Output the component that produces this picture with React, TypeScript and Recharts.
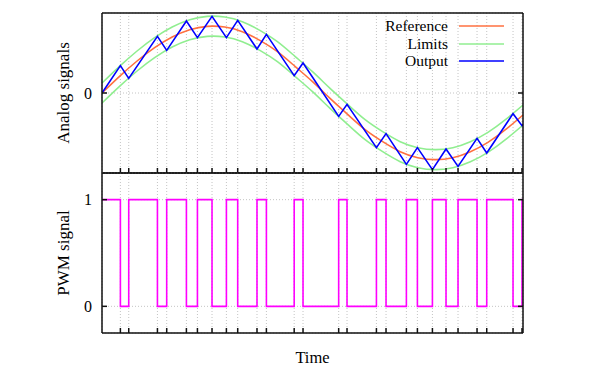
import React from 'react';
import { LineChart, Line, XAxis, YAxis, CartesianGrid, Legend } from 'recharts';

// switching instants of the PWM signal, on a time axis running 0..6
const switchTimes = [
  0.262, 0.381, 0.79, 0.922, 1.203, 1.36, 1.568, 1.773, 1.934, 2.209, 2.343, 2.739, 2.865,
  3.373, 3.492, 3.911, 4.048, 4.338, 4.495, 4.709, 4.903, 5.074, 5.345, 5.483, 5.858, 5.986,
];

// reference sine and the tolerance band around it
const sampleTimes = [
  0, 0.25, 0.5, 0.75, 1, 1.25, 1.5, 1.75, 2, 2.25, 2.5, 2.75, 3, 3.25, 3.5, 3.75, 4, 4.25, 4.5,
  4.75, 5, 5.25, 5.5, 5.75, 6,
];
const referenceValues = [
  0, 0.25, 0.48, 0.68, 0.84, 0.95, 1.0, 0.99, 0.92, 0.79, 0.62, 0.4, 0.17, -0.08, -0.32, -0.55,
  -0.73, -0.88, -0.97, -1.0, -0.97, -0.88, -0.74, -0.55, -0.33,
];
const upperLimitValues = [
  0.15, 0.4, 0.63, 0.83, 0.99, 1.1, 1.15, 1.14, 1.07, 0.94, 0.77, 0.55, 0.32, 0.07, -0.17, -0.4,
  -0.58, -0.73, -0.82, -0.85, -0.82, -0.73, -0.59, -0.4, -0.18,
];
const lowerLimitValues = [
  -0.15, 0.1, 0.33, 0.53, 0.69, 0.8, 0.85, 0.84, 0.77, 0.64, 0.47, 0.25, 0.02, -0.23, -0.47,
  -0.7, -0.88, -1.03, -1.12, -1.15, -1.12, -1.03, -0.89, -0.7, -0.48,
];

// output (blue zigzag) at t=0, every switching instant, and t=6
const outputTimes = [0, ...switchTimes, 6];
const outputValues = [
  0, 0.41, 0.22, 0.85, 0.64, 1.08, 0.83, 1.15, 0.83, 1.09, 0.66, 0.88, 0.26, 0.45, -0.35, -0.17,
  -0.82, -0.61, -1.07, -0.82, -1.15, -0.84, -1.1, -0.68, -0.9, -0.31, -0.49, -0.47,
];

// PWM level from each instant on
const pwmTimes = [0, ...switchTimes, 6];
const pwmValues = [
  1, 0, 1, 0, 1, 0, 1, 0, 1, 0, 1, 0, 1, 0, 1, 0, 1, 0, 1, 0, 1, 0, 1, 0, 1, 0, 1, 1,
];

const legendOrder = ['Reference', 'Limits', 'Output'];

const analogData = sampleTimes.map((t, i) => ({
  t,
  reference: referenceValues[i],
  upper: upperLimitValues[i],
  lower: lowerLimitValues[i],
}));
const outputData = outputTimes.map((t, i) => ({ t, output: outputValues[i] }));
const pwmData = pwmTimes.map((t, i) => ({ t, pwm: pwmValues[i] }));

const FONT = '"Liberation Serif", "Times New Roman", serif';
const FRAME = { stroke: '#111', strokeWidth: 1.5 };
const GRID = '#c4c4c4';
const noLabel = () => '';

const LegendBox = ({ payload }: any) => {
  const items = (payload || [])
    .filter((p: any) => p.type !== 'none' && legendOrder.includes(p.value))
    .filter((p: any, i: number, arr: any[]) => arr.findIndex((q) => q.value === p.value) === i)
    .sort((a: any, b: any) => legendOrder.indexOf(a.value) - legendOrder.indexOf(b.value));
  return (
    <div style={{ fontFamily: FONT, fontSize: 15.5, lineHeight: '17.5px', color: '#000' }}>
      {items.map((p: any) => (
        <div key={p.value} style={{ display: 'flex', alignItems: 'center', height: 17.5 }}>
          <span style={{ width: 88, textAlign: 'right' }}>{p.value}</span>
          <svg width={56} height={4} style={{ display: 'block' }}>
            <line x1={11} x2={56} y1={2} y2={2} stroke={p.color} strokeWidth={1.6} />
          </svg>
        </div>
      ))}
    </div>
  );
};

export default function App() {
  return (
    <div
      style={{
        position: 'absolute',
        left: 0,
        top: 0,
        width: 600,
        height: 375,
        background: '#fff',
        fontFamily: FONT,
      }}
    >
      <div style={{ position: 'absolute', left: 0, top: 0 }}>
        <LineChart width={600} height={174} margin={{ top: 3, right: 7, bottom: 0, left: 24 }}>
          <CartesianGrid stroke={GRID} strokeDasharray="1 2" />
          <XAxis
            dataKey="t"
            type="number"
            domain={[0, 6]}
            allowDataOverflow
            ticks={switchTimes}
            interval={0}
            tick={{ fontSize: 0 }}
            tickFormatter={noLabel}
            tickSize={-5}
            height={1}
            axisLine={FRAME}
            tickLine={FRAME}
          />
          <XAxis
            xAxisId="top"
            orientation="top"
            type="number"
            domain={[0, 6]}
            allowDataOverflow
            ticks={switchTimes}
            interval={0}
            tick={{ fontSize: 0 }}
            tickFormatter={noLabel}
            tickSize={-5}
            height={10}
            axisLine={FRAME}
            tickLine={FRAME}
          />
          <YAxis
            type="number"
            domain={[-1.2, 1.2]}
            allowDataOverflow
            ticks={[0]}
            interval={0}
            tickSize={-5}
            tickMargin={15}
            width={78}
            axisLine={FRAME}
            tickLine={FRAME}
            tick={{ fill: '#000', fontSize: 16, fontFamily: FONT }}
            label={{ value: 'Analog signals', angle: -90, position: 'center', fill: '#000', fontSize: 17, fontFamily: FONT }}
          />
          <YAxis
            yAxisId="right"
            orientation="right"
            type="number"
            domain={[-1.2, 1.2]}
            allowDataOverflow
            ticks={[0]}
            interval={0}
            tick={{ fontSize: 0 }}
            tickFormatter={noLabel}
            tickSize={-5}
            width={70}
            axisLine={FRAME}
            tickLine={FRAME}
          />
          <Legend
            layout="vertical"
            align="center"
            verticalAlign="middle"
            content={<LegendBox />}
            wrapperStyle={{ top: 17.25, left: 360, width: 150, margin: 0 }}
          />
          <Line
            data={analogData}
            dataKey="reference"
            name="Reference"
            type="natural"
            stroke="#ff7040"
            strokeWidth={1.6}
            dot={false}
            activeDot={false}
            isAnimationActive={false}
          />
          <Line
            data={analogData}
            dataKey="upper"
            name="Limits"
            type="natural"
            stroke="#90ee90"
            strokeWidth={1.6}
            dot={false}
            activeDot={false}
            isAnimationActive={false}
          />
          <Line
            data={analogData}
            dataKey="lower"
            name="Limits"
            legendType="none"
            type="natural"
            stroke="#90ee90"
            strokeWidth={1.6}
            dot={false}
            activeDot={false}
            isAnimationActive={false}
          />
          <Line
            data={outputData}
            dataKey="output"
            name="Output"
            type="linear"
            stroke="#0000ff"
            strokeWidth={1.6}
            dot={false}
            activeDot={false}
            isAnimationActive={false}
          />
        </LineChart>
      </div>

      <div style={{ position: 'absolute', left: 0, top: 163 }}>
        <LineChart width={600} height={212} margin={{ top: 0, right: 7, bottom: 0, left: 24 }}>
          <CartesianGrid stroke={GRID} strokeDasharray="1 2" />
          <XAxis
            dataKey="t"
            type="number"
            domain={[0, 6]}
            allowDataOverflow
            ticks={switchTimes}
            interval={0}
            tick={{ fontSize: 0 }}
            tickFormatter={noLabel}
            tickSize={-5}
            height={42}
            axisLine={FRAME}
            tickLine={FRAME}
            label={{ value: 'Time', position: 'insideBottom', offset: 12, fill: '#000', fontSize: 16.5, fontFamily: FONT }}
          />
          <XAxis
            xAxisId="top"
            orientation="top"
            type="number"
            domain={[0, 6]}
            allowDataOverflow
            ticks={switchTimes}
            interval={0}
            tick={{ fontSize: 0 }}
            tickFormatter={noLabel}
            tickSize={-5}
            height={10}
            axisLine={FRAME}
            tickLine={FRAME}
          />
          <YAxis
            type="number"
            domain={[-0.25, 1.25]}
            allowDataOverflow
            ticks={[0, 1]}
            interval={0}
            tickSize={-5}
            tickMargin={15}
            width={78}
            axisLine={FRAME}
            tickLine={FRAME}
            tick={{ fill: '#000', fontSize: 16, fontFamily: FONT }}
            label={{ value: 'PWM signal', angle: -90, position: 'center', fill: '#000', fontSize: 17, fontFamily: FONT }}
          />
          <YAxis
            yAxisId="right"
            orientation="right"
            type="number"
            domain={[-0.25, 1.25]}
            allowDataOverflow
            ticks={[0, 1]}
            interval={0}
            tick={{ fontSize: 0 }}
            tickFormatter={noLabel}
            tickSize={-5}
            width={70}
            axisLine={FRAME}
            tickLine={FRAME}
          />
          <Line
            data={pwmData}
            dataKey="pwm"
            name="PWM"
            type="stepAfter"
            stroke="#ff00ff"
            strokeWidth={1.6}
            dot={false}
            activeDot={false}
            isAnimationActive={false}
          />
        </LineChart>
      </div>
    </div>
  );
}
